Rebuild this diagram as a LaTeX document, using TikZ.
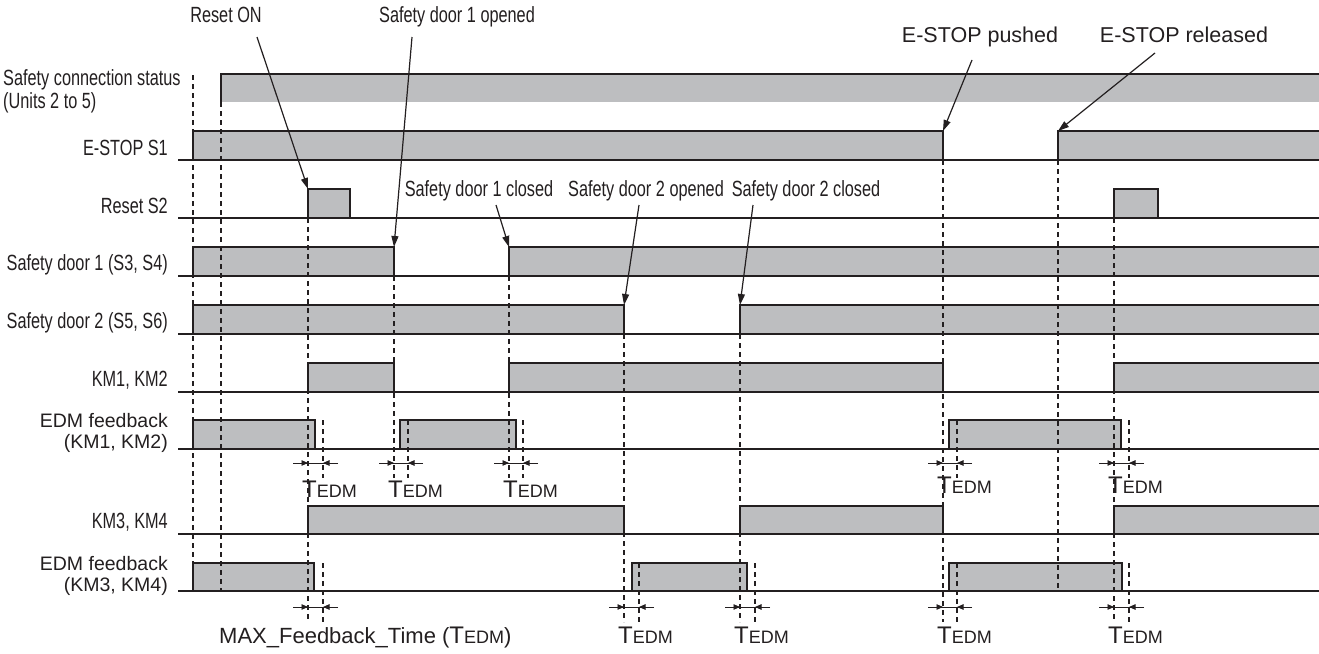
\documentclass[tikz,border=0pt]{standalone}
\usepackage{fontspec}
\setmainfont{Liberation Sans}
\newfontfamily\cond[FakeStretch=0.74]{Liberation Sans}
\usetikzlibrary{arrows.meta}
\definecolor{barfill}{RGB}{189,190,192}
\definecolor{ink}{RGB}{35,31,32}
\newcommand{\sigbar}[4]{\fill[barfill] (#3,#1) rectangle (#4,#2); \draw[edge] (#3,#2) -- (#3,#1) -- (#4,#1) -- (#4,#2);}
\newcommand{\tedmtext}{{\fontsize{24}{26}\selectfont T}{\fontsize{18}{20}\selectfont EDM}}
\tikzset{
  edge/.style={draw=ink, line width=1.2pt},
  baseln/.style={draw=ink, line width=1.4pt},
  guide/.style={draw=ink, line width=1.1pt, dash pattern=on 5pt off 4pt},
  ann/.style={draw=ink, line width=1.2pt, -{Triangle[length=11pt,width=7pt]}},
  tarr/.style={draw=ink, line width=0.9pt, -{Triangle[length=6.5pt,width=5.5pt]}},
  tline/.style={draw=ink, line width=0.9pt},
  clbl/.style={font=\cond\fontsize{22}{24}\selectfont, text=ink, inner sep=0pt},
  rlbl/.style={font=\fontsize{21.5}{24}\selectfont, text=ink, inner sep=0pt},
  elbl/.style={font=\fontsize{19.5}{22}\selectfont, text=ink, inner sep=0pt},
  tlbl/.style={text=ink, inner sep=0pt, anchor=base west},
}
\begin{document}
\begin{tikzpicture}[x=1pt,y=-1pt]
\useasboundingbox (0,0) rectangle (1319,653);
\fill[white] (0,0) rectangle (1319,653);

% ---------- bars ----------
\sigbar{74}{102}{221}{1323}
\sigbar{131}{160}{193}{943}
\sigbar{131}{160}{1058}{1323}
\sigbar{189}{218}{308}{350}
\sigbar{189}{218}{1114}{1158}
\sigbar{247}{276}{193}{394}
\sigbar{247}{276}{509}{1323}
\sigbar{305}{334}{193}{624}
\sigbar{305}{334}{740}{1323}
\sigbar{363}{392}{308}{394}
\sigbar{363}{392}{509}{943}
\sigbar{363}{392}{1114}{1323}
\sigbar{420}{449}{193}{315}
\sigbar{420}{449}{400}{516}
\sigbar{420}{449}{949}{1121}
\sigbar{506}{534}{308}{624}
\sigbar{506}{534}{740}{943}
\sigbar{506}{534}{1114}{1323}
\sigbar{563}{591}{193}{314}
\sigbar{563}{591}{632}{747}
\sigbar{563}{591}{949}{1122}

% ---------- dashed guides ----------
\draw[guide] (193,75) -- (193,591);
\draw[guide] (221,102) -- (221,591);
\draw[guide] (308,218) -- (308,622);
\draw[guide] (394,276) -- (394,478);
\draw[guide] (509,276) -- (509,478);
\draw[guide] (624,334) -- (624,622);
\draw[guide] (740,334) -- (740,622);
\draw[guide] (943,160) -- (943,622);
\draw[guide] (1058,160) -- (1058,591);
\draw[guide] (1114,218) -- (1114,622);
\foreach \x in {323,408,523,957,1129} {\draw[guide] (\x,420) -- (\x,478);}
\foreach \x in {323,639,755,957,1129} {\draw[guide] (\x,563) -- (\x,622);}

% ---------- baselines ----------
\foreach \y in {160,218,276,334,392,449,534,591} {\draw[baseln] (178,\y) -- (1323,\y);}

% ---------- T_EDM markers ----------
\foreach \a/\b [count=\i] in {308/323,394/408,509/523,943/957,1114/1129} {
  \coordinate (ua\i) at (\a,463); \coordinate (ub\i) at (\b,463);
  \coordinate (uL\i) at (\a-15,463); \coordinate (uR\i) at (\b+15,463);
  \draw[tline] (uL\i) -- (uR\i);
  \draw[tarr] (uL\i) -- (ua\i);
  \draw[tarr] (uR\i) -- (ub\i);
}
\foreach \a/\b [count=\i] in {308/323,624/639,740/755,943/957,1114/1129} {
  \coordinate (la\i) at (\a,607); \coordinate (lb\i) at (\b,607);
  \coordinate (lL\i) at (\a-15,607); \coordinate (lR\i) at (\b+15,607);
  \draw[tline] (lL\i) -- (lR\i);
  \draw[tarr] (lL\i) -- (la\i);
  \draw[tarr] (lR\i) -- (lb\i);
}
\node[tlbl] (t1) at (302,497) {\tedmtext};
\node[tlbl] (t2) at (388,497) {\tedmtext};
\node[tlbl] (t3) at (503,497) {\tedmtext};
\node[tlbl] (t4) at (937,493) {\tedmtext};
\node[tlbl] (t5) at (1108,493) {\tedmtext};
\node[tlbl] (mx) at (219,643) {\fontsize{22}{24}\selectfont MAX\_Feedback\_Time (\tedmtext\fontsize{22}{24}\selectfont)};
\node[tlbl] (t6) at (618,643) {\tedmtext};
\node[tlbl] (t7) at (734,643) {\tedmtext};
\node[tlbl] (t8) at (937,643) {\tedmtext};
\node[tlbl] (t9) at (1108,643) {\tedmtext};

% ---------- row labels ----------
\node[clbl, anchor=base west] (l1a) at (3,85) {Safety connection status};
\node[clbl, anchor=base west] (l1b) at (3,108) {(Units 2 to 5)};
\node[clbl, anchor=base east] (l2) at (168,155) {E-STOP S1};
\node[clbl, anchor=base east] (l3) at (168,213) {Reset S2};
\node[clbl, anchor=base east] (l4) at (168,270) {Safety door 1 (S3, S4)};
\node[clbl, anchor=base east] (l5) at (168,328) {Safety door 2 (S5, S6)};
\node[clbl, anchor=base east] (l6) at (168,386) {KM1, KM2};
\node[elbl, anchor=base east] (l7a) at (168,427) {EDM feedback};
\node[elbl, anchor=base east] (l7b) at (168,448) {(KM1, KM2)};
\node[clbl, anchor=base east] (l8) at (168,528) {KM3, KM4};
\node[elbl, anchor=base east] (l9a) at (168,570) {EDM feedback};
\node[elbl, anchor=base east] (l9b) at (168,591) {(KM3, KM4)};

% ---------- event annotations ----------
\node[clbl, anchor=base] (aReset) at (226,23) {Reset ON};
\node[clbl, anchor=base] (aD1o) at (457,23) {Safety door 1 opened};
\node[clbl, anchor=base] (aD1c) at (479,196) {Safety door 1 closed};
\node[clbl, anchor=base] (aD2o) at (646,196) {Safety door 2 opened};
\node[clbl, anchor=base] (aD2c) at (806,196) {Safety door 2 closed};
\node[rlbl, anchor=base] (aEp) at (980,42) {E-STOP pushed};
\node[rlbl, anchor=base] (aEr) at (1184,42) {E-STOP released};

\coordinate (sReset) at (257,37);  \coordinate (eReset) at (308,189);
\coordinate (sD1o) at (412,37);    \coordinate (eD1o) at (394,247);
\coordinate (sD1c) at (496,205);   \coordinate (eD1c) at (509,247);
\coordinate (sD2o) at (639,205);   \coordinate (eD2o) at (624,305);
\coordinate (sD2c) at (753,205);   \coordinate (eD2c) at (740,305);
\coordinate (sEp) at (972,60);     \coordinate (eEp) at (943,131);
\coordinate (sEr) at (1155,53);    \coordinate (eEr) at (1058,131);
\draw[ann] (sReset) -- (eReset);
\draw[ann] (sD1o) -- (eD1o);
\draw[ann] (sD1c) -- (eD1c);
\draw[ann] (sD2o) -- (eD2o);
\draw[ann] (sD2c) -- (eD2c);
\draw[ann] (sEp) -- (eEp);
\draw[ann] (sEr) -- (eEr);
\end{tikzpicture}
\end{document}
